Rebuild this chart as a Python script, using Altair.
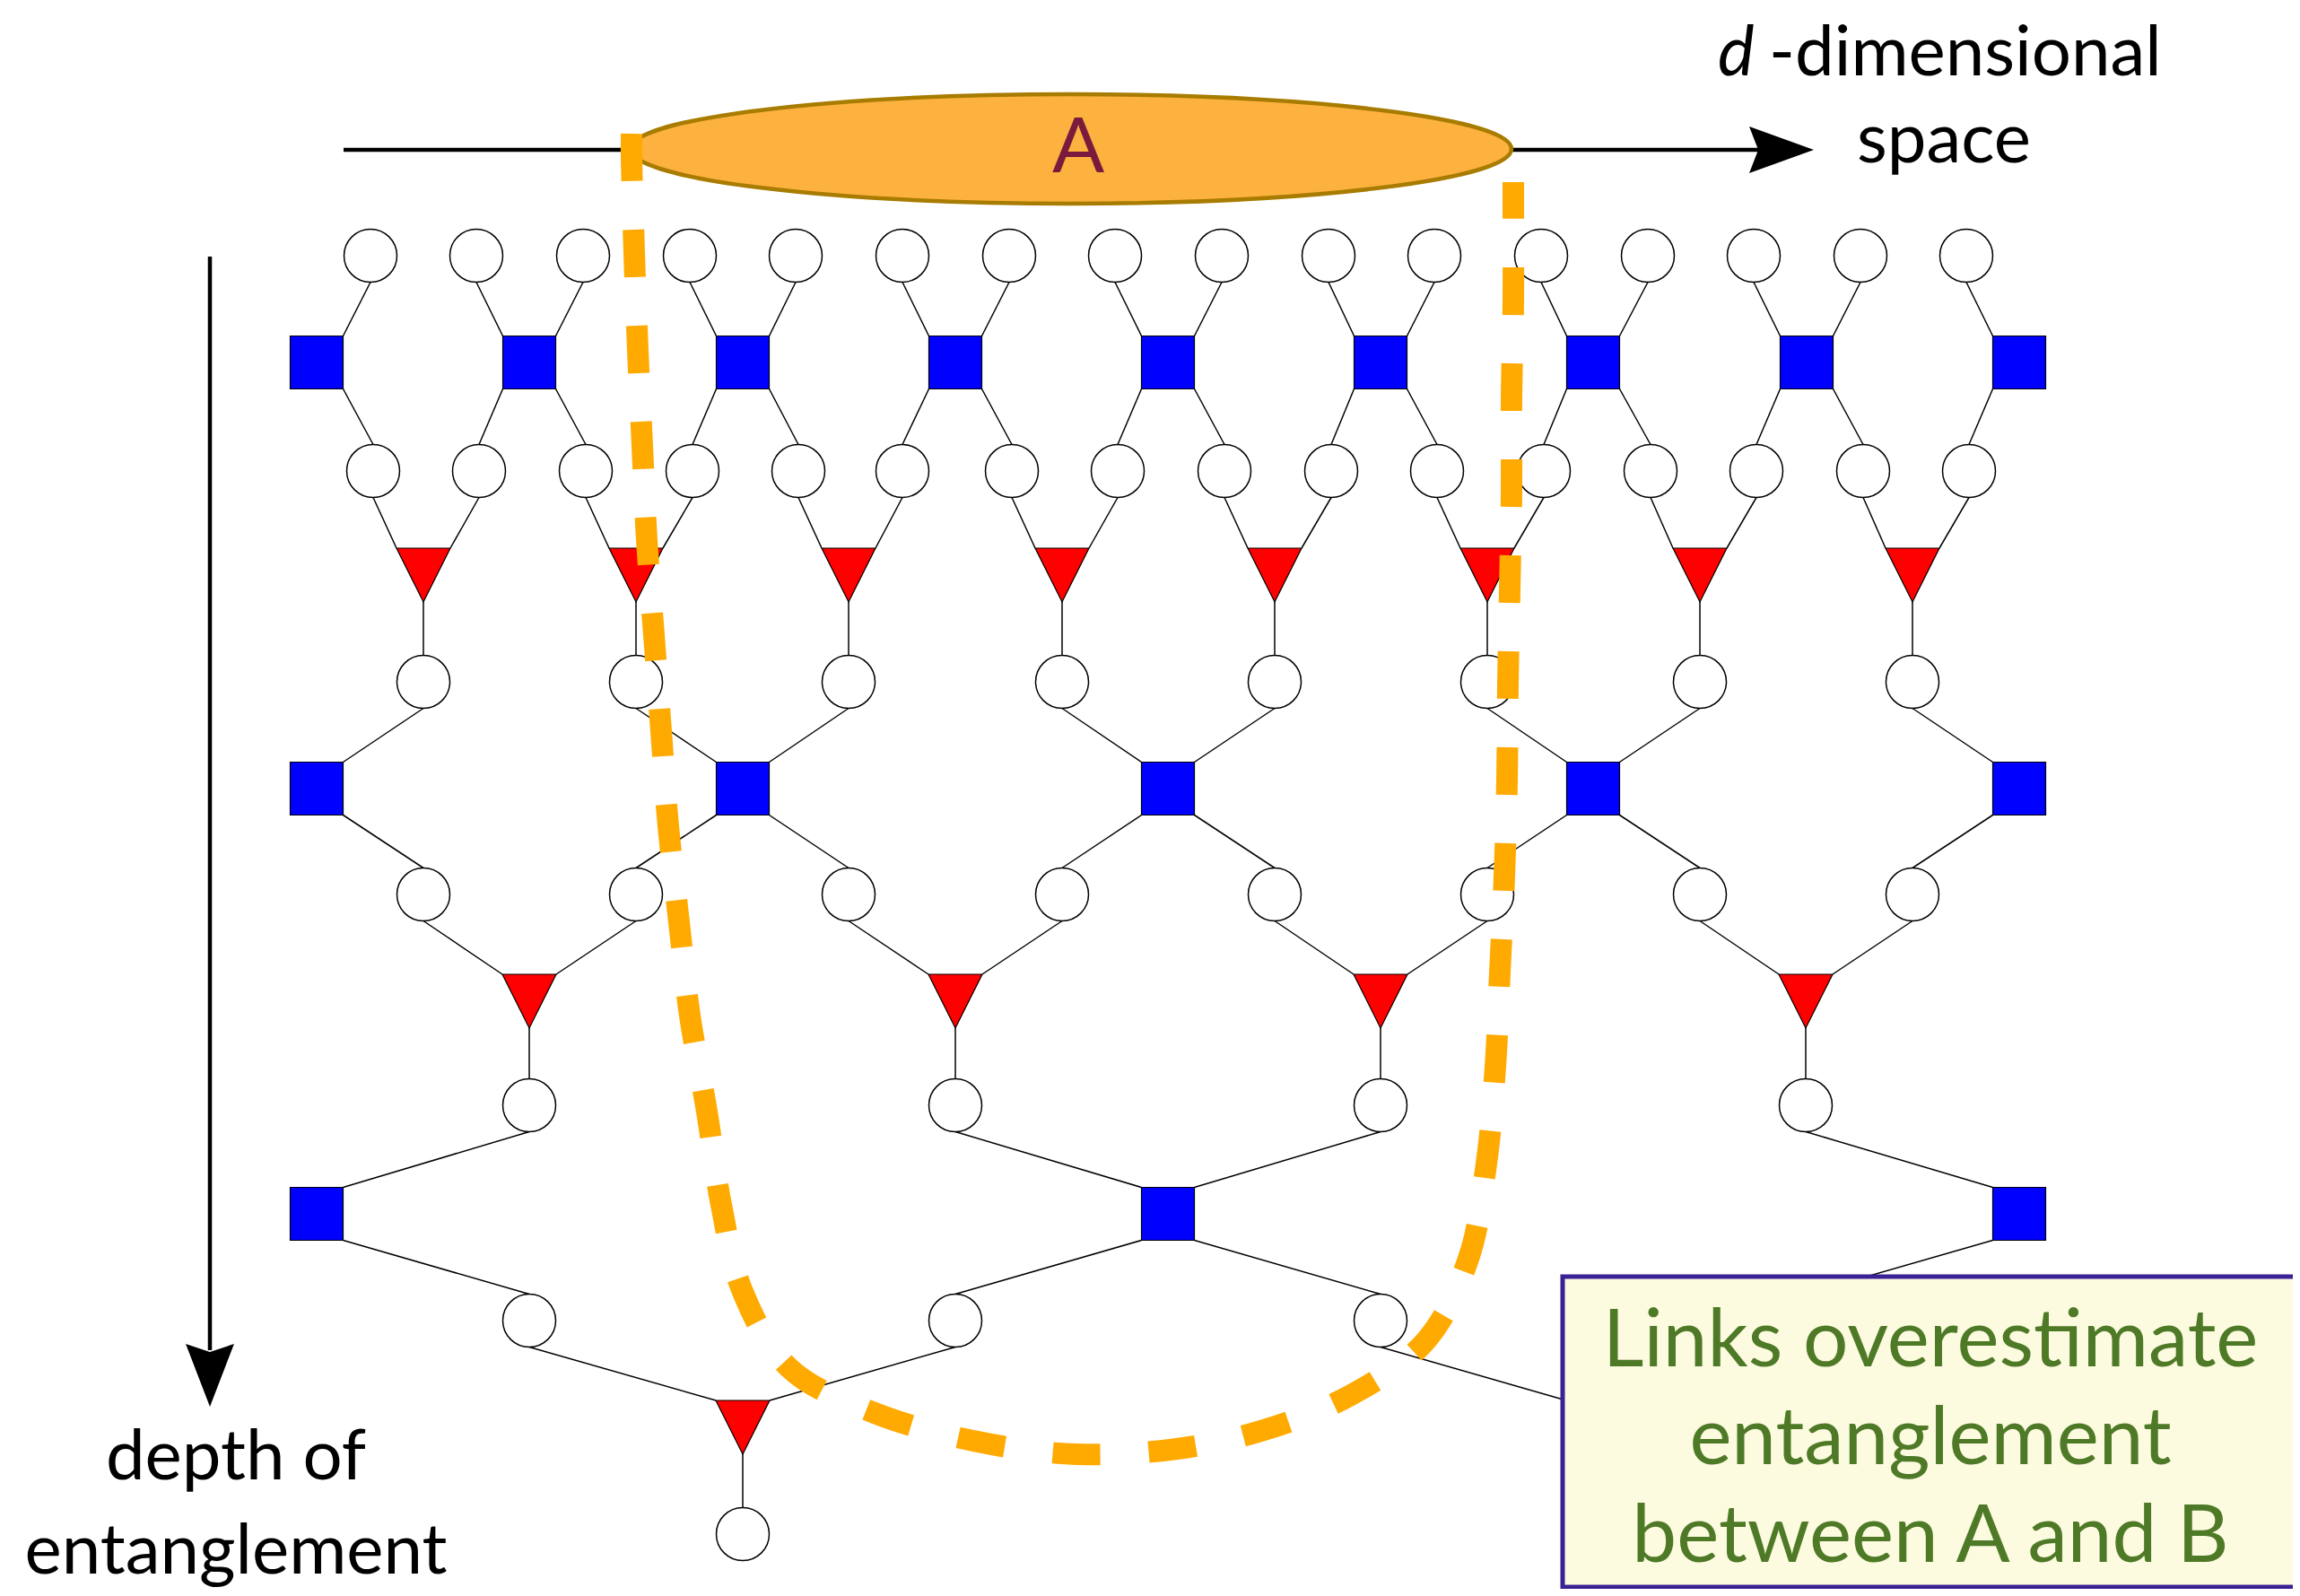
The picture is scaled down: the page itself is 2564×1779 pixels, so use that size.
import altair as alt
import pandas as pd

# ---- page-pixel coordinate frame -------------------------------------------
X0, X1 = 8, 2556
Y0, Y1 = 8, 1771
W, H = X1 - X0, Y1 - Y0

# ---- MERA network nodes (x positions per layer, y per layer) ---------------
circ0_x = [413, 531, 650, 769, 887, 1006, 1125, 1243, 1362, 1481, 1599, 1718, 1837, 1955, 2074, 2192]
circ0_y = 285
sq1_x = [353, 590, 828, 1065, 1302, 1539, 1776, 2014, 2251]
sq1_y = 404
circ2_x = [416, 534, 653, 772, 890, 1006, 1128, 1246, 1365, 1484, 1602, 1721, 1840, 1958, 2077, 2195]
circ2_y = 525
tri3_x = [472, 709, 946, 1184, 1421, 1658, 1895, 2132]
tri3_top, tri3_tip = 611, 670
circ4_x = [472, 709, 946, 1184, 1421, 1658, 1895, 2132]
circ4_y = 760
sq5_x = [353, 828, 1302, 1776, 2251]
sq5_y = 879
circ6_x = [472, 709, 946, 1184, 1421, 1658, 1895, 2132]
circ6_y = 997
tri7_x = [590, 1065, 1539, 2013]
tri7_top, tri7_tip = 1086, 1145
circ8_x = [590, 1065, 1539, 2013]
circ8_y = 1232
sq9_x = [353, 1302, 2251]
sq9_y = 1353
circ10_x = [590, 1065, 1539, 2013]
circ10_y = 1472
tri11_x = [828, 1776]
tri11_top, tri11_tip = 1561, 1620
circ12_x = [828, 1776]
circ12_y = 1710

R = 29.5      # circle radius / half square side
TW = 30       # half triangle width

# ---- orange dashed boundary curve ------------------------------------------
cut_x = [704, 704, 707, 711, 716, 721, 729, 737, 745, 757, 769, 788, 804, 828, 880,
         975, 1090, 1200, 1312, 1409, 1506, 1590, 1637, 1657, 1667, 1672, 1677, 1680,
         1681, 1683, 1685, 1685, 1687, 1687, 1687]
cut_y = [149, 175, 282, 390, 497, 602, 708, 815, 921, 1028, 1132, 1239, 1343, 1440, 1525,
         1575, 1607, 1621, 1615, 1594, 1555, 1494, 1403, 1297, 1189, 1084, 977, 871,
         764, 657, 550, 443, 337, 230, 203]

# ---- texts ------------------------------------------------------------------
box_lines = ["Links overestimate", "entanglement", "between A and B"]
box_baselines = [1523, 1632, 1741]
depth_lines = ["depth of", "entanglement"]
depth_baselines = [1649, 1754]

# ---- build tables -----------------------------------------------------------
circles = []
for xs, y in [(circ0_x, circ0_y), (circ2_x, circ2_y), (circ4_x, circ4_y), (circ6_x, circ6_y),
              (circ8_x, circ8_y), (circ10_x, circ10_y), (circ12_x, circ12_y)]:
    circles += [{"x": x, "y": y} for x in xs]
squares = []
for xs, y in [(sq1_x, sq1_y), (sq5_x, sq5_y), (sq9_x, sq9_y)]:
    squares += [{"x": x, "y": y} for x in xs]
triangles = []
for xs, top in [(tri3_x, tri3_top), (tri7_x, tri7_top), (tri11_x, tri11_top)]:
    triangles += [{"x": x, "y": top + TW} for x in xs]

edges = []
def sq_edges(sx, sy, above_x, above_y, below_x, below_y):
    for j, xs in enumerate(sx):
        for k in (2 * j - 1, 2 * j):
            if 0 <= k < len(above_x):
                xc = above_x[k]
                s = -1 if xc < xs else 1
                edges.append({"x": xc, "y": above_y + R, "x2": xs + s * R, "y2": sy - R})
            if 0 <= k < len(below_x):
                xc = below_x[k]
                s = -1 if xc < xs else 1
                edges.append({"x": xs + s * R, "y": sy + R, "x2": xc, "y2": below_y - R})

def tri_edges(tx, top, tip, above_x, above_y, below_x, below_y):
    for i, xt in enumerate(tx):
        for k, s in ((2 * i, -1), (2 * i + 1, 1)):
            edges.append({"x": above_x[k], "y": above_y + R, "x2": xt + s * TW, "y2": top})
        edges.append({"x": xt, "y": tip, "x2": below_x[i], "y2": below_y - R})

sq_edges(sq1_x, sq1_y, circ0_x, circ0_y, circ2_x, circ2_y)
tri_edges(tri3_x, tri3_top, tri3_tip, circ2_x, circ2_y, circ4_x, circ4_y)
sq_edges(sq5_x, sq5_y, circ4_x, circ4_y, circ6_x, circ6_y)
tri_edges(tri7_x, tri7_top, tri7_tip, circ6_x, circ6_y, circ8_x, circ8_y)
sq_edges(sq9_x, sq9_y, circ8_x, circ8_y, circ10_x, circ10_y)
tri_edges(tri11_x, tri11_top, tri11_tip, circ10_x, circ10_y, circ12_x, circ12_y)

xs_ = alt.Scale(domain=[X0, X1], nice=False, zero=False)
ys_ = alt.Scale(domain=[Y0, Y1], nice=False, zero=False, reverse=True)
def X(f="x"):
    return alt.X(f"{f}:Q", scale=xs_, axis=None)
def Y(f="y"):
    return alt.Y(f"{f}:Q", scale=ys_, axis=None)

df = lambda rows: alt.Data(values=rows)

# axes arrows
h_axis = alt.Chart(df([{"x": 383, "y": 167, "x2": 1960, "y2": 167},
                       {"x": 234, "y": 286, "x2": 234, "y2": 1505}])).mark_rule(
    color="black", strokeWidth=4.5).encode(x=X(), y=Y(), x2="x2:Q", y2="y2:Q")

arrow_r = alt.Chart(df([{"x": 1986, "y": 167}])).mark_point(
    shape="M 1 0 L -1 -0.72 L -0.72 0 L -1 0.72 Z", size=72 * 72, filled=True,
    color="black", opacity=1).encode(x=X(), y=Y())
arrow_d = alt.Chart(df([{"x": 234, "y": 1533}])).mark_point(
    shape="M 0 1 L -0.77 -1 L 0 -0.74 L 0.77 -1 Z", size=70 * 70, filled=True,
    color="black", opacity=1).encode(x=X(), y=Y())

ellipse_path = ("M -1 0 C -1 -0.0685 -0.5523 -0.124 0 -0.124 C 0.5523 -0.124 1 -0.0685 1 0 "
                "C 1 0.0685 0.5523 0.124 0 0.124 C -0.5523 0.124 -1 0.0685 -1 0 Z")
ellipse = alt.Chart(df([{"x": 1194, "y": 166}])).mark_point(
    shape=ellipse_path, size=982 * 982, filled=True, fill="#FDB13F",
    stroke="#A87C00", strokeWidth=4.5, opacity=1).encode(x=X(), y=Y())
a_text = alt.Chart(df([{"x": 1202, "y": 192, "t": "A"}])).mark_text(
    font="Lato", fontSize=86, color="#7A1A3D", baseline="alphabetic",
    align="center").encode(x=X(), y=Y(), text="t:N")

edge_layer = alt.Chart(df(edges)).mark_rule(color="black", strokeWidth=1.5).encode(
    x=X(), y=Y(), x2="x2:Q", y2="y2:Q")

circ_layer = alt.Chart(df(circles)).mark_point(
    shape="circle", size=59 * 59, filled=True, fill="white", stroke="black",
    strokeWidth=1.5, opacity=1).encode(x=X(), y=Y())
sq_layer = alt.Chart(df(squares)).mark_point(
    shape="square", size=59 * 59, filled=True, fill="#0000FF", stroke="black",
    strokeWidth=1.2, opacity=1).encode(x=X(), y=Y())
tri_layer = alt.Chart(df(triangles)).mark_point(
    shape="M -1 -1 L 1 -1 L 0 1 Z", size=60 * 60, filled=True, fill="#FF0000",
    stroke="black", strokeWidth=1.2, opacity=1).encode(x=X(), y=Y())

cut = alt.Chart(df([{"i": i, "x": x, "y": y} for i, (x, y) in enumerate(zip(cut_x, cut_y))])).mark_line(
    interpolate="catmull-rom", color="#FFAA00", strokeWidth=24, strokeDash=[53, 54],
    strokeCap="butt").encode(x=X(), y=Y(), order="i:Q")

box = alt.Chart(df([{"x": 1742, "y": 1423, "x2": 2559, "y2": 1769}])).mark_rect(
    fill="#FCFADF", stroke="#3B2196", strokeWidth=5).encode(
    x=X(), y=Y(), x2="x2:Q", y2="y2:Q")
box_text = alt.Chart(df([{"x": 2152, "y": b, "t": t} for t, b in zip(box_lines, box_baselines)])).mark_text(
    font="Lato", fontSize=89, color="#4E7A27", baseline="alphabetic", align="center").encode(
    x=X(), y=Y(), text="t:N")

depth_text = alt.Chart(df([{"x": 263, "y": b, "t": t} for t, b in zip(depth_lines, depth_baselines)])).mark_text(
    font="Lato", fontSize=78, color="black", baseline="alphabetic", align="center").encode(
    x=X(), y=Y(), text="t:N")
d_italic = alt.Chart(df([{"x": 1915, "y": 84, "t": "d"}])).mark_text(
    font="Lato", fontSize=77, fontStyle="italic", color="black", baseline="alphabetic",
    align="left").encode(x=X(), y=Y(), text="t:N")
dim_text = alt.Chart(df([{"x": 1972, "y": 84, "t": "-dimensional"}])).mark_text(
    font="Lato", fontSize=78, color="black", baseline="alphabetic", align="left").encode(
    x=X(), y=Y(), text="t:N")
space_text = alt.Chart(df([{"x": 2167, "y": 181, "t": "space"}])).mark_text(
    font="Lato", fontSize=78, color="black", baseline="alphabetic", align="center").encode(
    x=X(), y=Y(), text="t:N")

chart = alt.layer(
    h_axis, arrow_r, arrow_d, ellipse, a_text, edge_layer, circ_layer, sq_layer, tri_layer,
    cut, box, box_text, depth_text, d_italic, dim_text, space_text
).properties(width=W, height=H, padding=0, background="white",
             autosize=alt.AutoSizeParams(type="none")
).configure_view(stroke="transparent", strokeWidth=0)

chart.save("out.html", embed_options={"renderer": "svg", "actions": False})
